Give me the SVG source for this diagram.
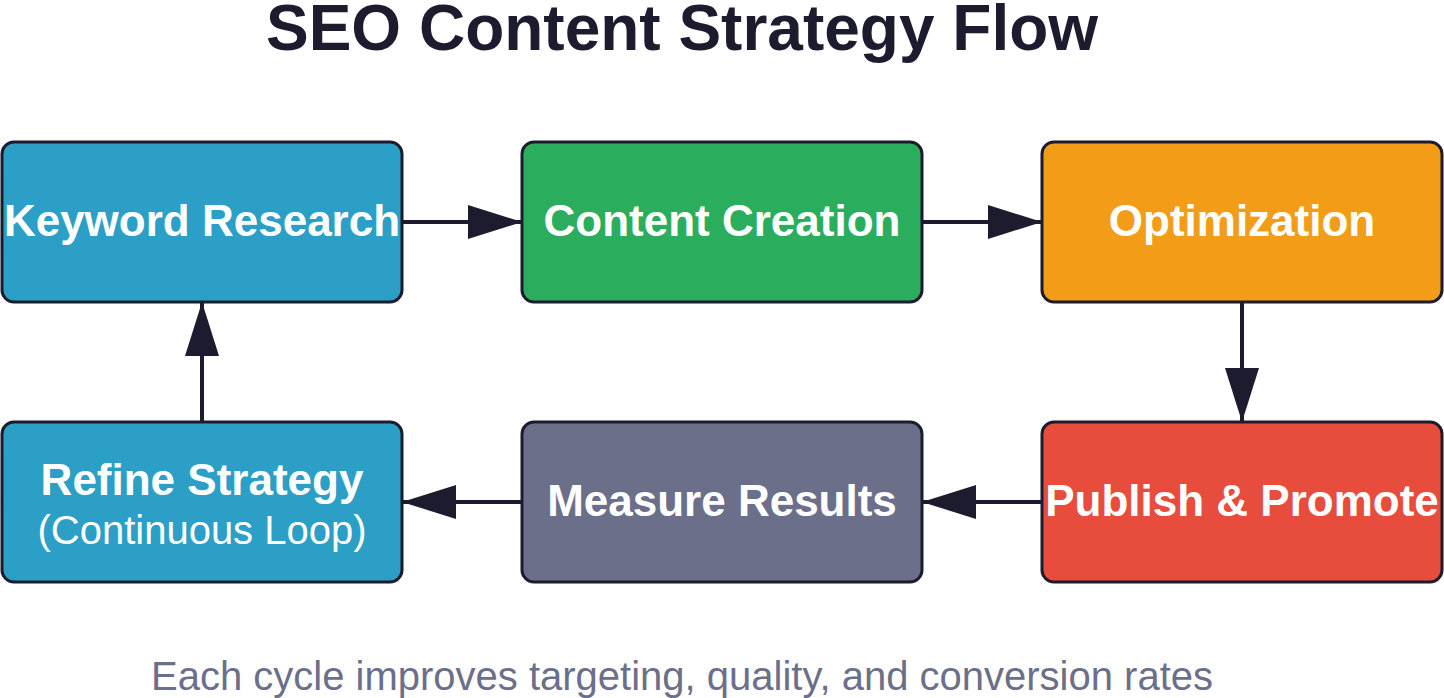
<svg xmlns="http://www.w3.org/2000/svg" width="1444" height="698" viewBox="0 0 1444 698">
<defs>
<marker id="ah" markerUnits="userSpaceOnUse" markerWidth="54" markerHeight="34" refX="54" refY="17" orient="auto"><path d="M0,0 L54,17 L0,34 z" fill="#1c1c2e"/></marker>
<style>
.box{stroke:#1c1c2e;stroke-width:3}
.t{font-family:"Liberation Sans",Arial,sans-serif;font-weight:bold;font-size:44px;fill:#fff;text-anchor:middle}
.c{stroke:#1c1c2e;stroke-width:4;fill:none;marker-end:url(#ah)}
</style>
</defs>
<rect width="1444" height="698" fill="#fff"/>
<text x="682" y="50" font-family="Liberation Sans,Arial,sans-serif" font-weight="bold" font-size="64" fill="#1c1c2e" text-anchor="middle">SEO Content Strategy Flow</text>
<g id="connectors">
<line class="c" x1="402" y1="222" x2="522" y2="222"/>
<line class="c" x1="922" y1="222" x2="1042" y2="222"/>
<line class="c" x1="1242" y1="302" x2="1242" y2="422"/>
<line class="c" x1="1042" y1="502" x2="922" y2="502"/>
<line class="c" x1="522" y1="502" x2="402" y2="502"/>
<line class="c" x1="202" y1="422" x2="202" y2="302"/>
</g>
<g id="keyword"><rect class="box" x="2" y="142" width="400" height="160" rx="12" fill="#2b9fc6"/><text class="t" x="202" y="236">Keyword Research</text></g>
<g id="content"><rect class="box" x="522" y="142" width="400" height="160" rx="12" fill="#2aae5e"/><text class="t" x="722" y="236">Content Creation</text></g>
<g id="optimization"><rect class="box" x="1042" y="142" width="400" height="160" rx="12" fill="#f39c17"/><text class="t" x="1242" y="236">Optimization</text></g>
<g id="publish"><rect class="box" x="1042" y="422" width="400" height="160" rx="12" fill="#e74c3c"/><text class="t" x="1242" y="516">Publish &amp; Promote</text></g>
<g id="measure"><rect class="box" x="522" y="422" width="400" height="160" rx="12" fill="#6b6f8a"/><text class="t" x="722" y="516">Measure Results</text></g>
<g id="refine"><rect class="box" x="2" y="422" width="400" height="160" rx="12" fill="#2b9fc6"/><text class="t" x="202" y="495">Refine Strategy</text><text x="202" y="544" font-family="Liberation Sans,Arial,sans-serif" font-size="40" fill="#fff" text-anchor="middle">(Continuous Loop)</text></g>
<text x="682" y="690" font-family="Liberation Sans,Arial,sans-serif" font-size="40" fill="#6b6f8a" text-anchor="middle">Each cycle improves targeting, quality, and conversion rates</text>
</svg>
